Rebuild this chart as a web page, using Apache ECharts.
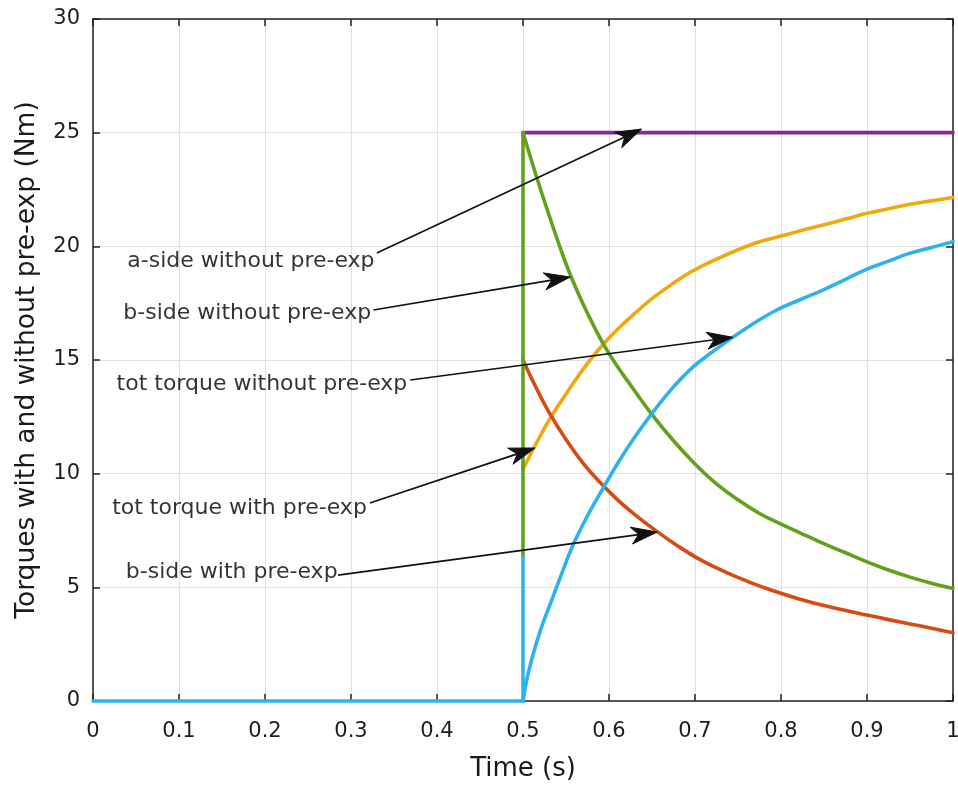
<!DOCTYPE html>
<html>
<head>
<meta charset="utf-8">
<script src="https://cdn.jsdelivr.net/npm/echarts@6/dist/echarts.min.js"></script>
<style>
html,body{margin:0;padding:0;background:#fff;}
#chart{width:958px;height:787px;}
</style>
</head>
<body>
<div id="chart"></div>
<script>
// ---- data ----
const xTickLabels = ['0','0.1','0.2','0.3','0.4','0.5','0.6','0.7','0.8','0.9','1'];
const yTickLabels = ['0','5','10','15','20','25','30'];

// a-side without pre-exp (purple)
const tASide = [0.5, 1.0];
const vASide = [25, 25];

// tot torque with pre-exp (orange)
const tTotWith = [0.5,0.515,0.531,0.55,0.57,0.59,0.61,0.63,0.65,0.672,0.694,0.72,0.75,0.775,0.8,0.822,0.85,0.875,0.9,0.925,0.95,0.975,1.0];
const vTotWith = [10.2,11.3,12.4,13.5,14.6,15.55,16.35,17.05,17.7,18.3,18.85,19.35,19.85,20.2,20.45,20.68,20.95,21.2,21.45,21.65,21.85,22.0,22.15];

// b-side with pre-exp (red)
const tBWith = [0.5,0.515,0.531,0.55,0.57,0.59,0.61,0.63,0.656,0.68,0.706,0.735,0.764,0.79,0.822,0.85,0.875,0.9,0.925,0.95,0.975,1.0];
const vBWith = [15.0,13.8,12.65,11.5,10.45,9.6,8.85,8.2,7.45,6.82,6.22,5.68,5.22,4.86,4.48,4.2,3.98,3.78,3.58,3.39,3.2,3.0];

// b-side without pre-exp (green)
const tBWithoutStep = [0.5, 0.5];
const vBWithoutStep = [6.33, 25];
const tBWithout = [0.5,0.515,0.53,0.545,0.555,0.57,0.585,0.595,0.61,0.625,0.648,0.675,0.702,0.725,0.75,0.775,0.802,0.822,0.845,0.875,0.9,0.925,0.95,0.975,1.0];
const vBWithout = [25,23.15,21.4,19.75,18.75,17.45,16.3,15.6,14.7,13.9,12.7,11.45,10.35,9.55,8.85,8.25,7.75,7.4,7.0,6.52,6.12,5.76,5.45,5.18,4.95];

// tot torque without pre-exp (cyan)
const tTotWithoutFlat = [0, 0.5];
const vTotWithoutFlat = [0, 0];
const tTotWithoutStep = [0.5, 0.5];
const vTotWithoutStep = [0, 6.33];
const tTotWithout = [0.5,0.505,0.51,0.516,0.523,0.531,0.545,0.558,0.575,0.593,0.61,0.628,0.648,0.67,0.695,0.72,0.744,0.77,0.795,0.822,0.85,0.875,0.9,0.925,0.95,0.975,1.0];
const vTotWithout = [0,1.05,1.8,2.6,3.4,4.2,5.6,6.85,8.15,9.35,10.45,11.5,12.55,13.6,14.6,15.35,16.0,16.65,17.2,17.65,18.1,18.55,19.0,19.35,19.7,19.95,20.2];

// annotations (data coordinates)
const annTexts = ['a-side without pre-exp','b-side without pre-exp','tot torque without pre-exp','tot torque with pre-exp','b-side with pre-exp'];
const annTextAt = [[0.328,19.36],[0.324,17.07],[0.366,13.95],[0.319,8.49],[0.285,5.68]];
const annTail = [[0.330,19.71],[0.326,17.2],[0.369,14.12],[0.322,8.71],[0.285,5.54]];
const annTip = [[0.638,25.16],[0.555,18.65],[0.744,16.0],[0.514,11.13],[0.656,7.43]];

const zip = (t, v) => t.map((x, i) => [x, v[i]]);

const FONT = 'DejaVu Sans';
const C = {
  purple: '#7E2F8E',
  orange: '#EFA90F',
  red: '#D84A14',
  green: '#63A11C',
  cyan: '#2EB2EE'
};

function lineSeries(name, data, color, z, smooth) {
  return {
    name, type: 'line', data, showSymbol: false, symbol: 'none',
    smooth: smooth ? 0.4 : false,
    lineStyle: { color, width: 3.6, cap: 'round', join: 'round' }, itemStyle: { color },
    z, animation: false, silent: true, clip: false
  };
}

const chart = echarts.init(document.getElementById('chart'), null, { renderer: 'canvas' });

const axisLineStyle = { color: '#222', width: 1.5 };
const HEAD_LEN = 26, HEAD_HALF_W = 8.5;

function renderArrow(params, api) {
  const p0 = api.coord([api.value(0), api.value(1)]);
  const p1 = api.coord([api.value(2), api.value(3)]);
  const dx = p1[0] - p0[0], dy = p1[1] - p0[1];
  const len = Math.sqrt(dx * dx + dy * dy) || 1;
  const ux = dx / len, uy = dy / len;
  const nx = -uy, ny = ux;
  const bx = p1[0] - ux * HEAD_LEN, by = p1[1] - uy * HEAD_LEN;
  const notch = [p1[0] - ux * HEAD_LEN * 0.72, p1[1] - uy * HEAD_LEN * 0.72];
  return {
    type: 'group',
    children: [
      {
        type: 'line',
        shape: { x1: p0[0], y1: p0[1], x2: notch[0], y2: notch[1] },
        style: { stroke: '#111', lineWidth: 1.7 }
      },
      {
        type: 'polygon',
        shape: { points: [p1, [bx + nx * HEAD_HALF_W, by + ny * HEAD_HALF_W], notch, [bx - nx * HEAD_HALF_W, by - ny * HEAD_HALF_W]] },
        style: { fill: '#111', stroke: '#111', lineWidth: 1 }
      }
    ]
  };
}

chart.setOption({
  backgroundColor: '#fff',
  animation: false,
  grid: { left: 93, right: 5, top: 19, bottom: 86, containLabel: false, outerBoundsMode: 'none' },
  xAxis: [
    {
      type: 'value', min: 0, max: 1, interval: 0.1, position: 'bottom',
      name: 'Time (s)', nameLocation: 'middle', nameGap: 55,
      nameTextStyle: { fontFamily: FONT, fontSize: 26, color: '#1a1a1a' },
      axisLine: { show: true, onZero: false, lineStyle: axisLineStyle },
      axisTick: { show: true, inside: true, length: 7, lineStyle: { color: '#222', width: 1.5 } },
      axisLabel: {
        fontFamily: FONT, fontSize: 21, color: '#1e1e1e', margin: 20,
        formatter: (v) => xTickLabels[Math.round(v * 10)]
      },
      splitLine: { show: true, lineStyle: { color: '#e2e2e2', width: 1 } }
    },
    {
      type: 'value', min: 0, max: 1, interval: 0.1, position: 'top',
      axisLine: { show: true, onZero: false, lineStyle: axisLineStyle },
      axisTick: { show: true, inside: true, length: 7, lineStyle: { color: '#222', width: 1.5 } },
      axisLabel: { show: false }, splitLine: { show: false }
    }
  ],
  yAxis: [
    {
      type: 'value', min: 0, max: 30, interval: 5, position: 'left',
      name: 'Torques with and without pre-exp (Nm)', nameLocation: 'middle', nameGap: 52,
      nameTextStyle: { fontFamily: FONT, fontSize: 26.5, color: '#1a1a1a' },
      axisLine: { show: true, onZero: false, lineStyle: axisLineStyle },
      axisTick: { show: true, inside: true, length: 7, lineStyle: { color: '#222', width: 1.5 } },
      axisLabel: {
        fontFamily: FONT, fontSize: 21, color: '#1e1e1e', margin: 13,
        formatter: (v) => yTickLabels[Math.round(v / 5)]
      },
      splitLine: { show: true, lineStyle: { color: '#e2e2e2', width: 1 } }
    },
    {
      type: 'value', min: 0, max: 30, interval: 5, position: 'right',
      axisLine: { show: true, onZero: false, lineStyle: axisLineStyle },
      axisTick: { show: true, inside: true, length: 7, lineStyle: { color: '#222', width: 1.5 } },
      axisLabel: { show: false }, splitLine: { show: false }
    }
  ],
  series: [
    lineSeries('a-side without pre-exp', zip(tASide, vASide), C.purple, 2, false),
    lineSeries('tot torque with pre-exp', zip(tTotWith, vTotWith), C.orange, 3, true),
    lineSeries('b-side with pre-exp', zip(tBWith, vBWith), C.red, 4, true),
    lineSeries('b-side without pre-exp step', zip(tBWithoutStep, vBWithoutStep), C.green, 5, false),
    lineSeries('b-side without pre-exp', zip(tBWithout, vBWithout), C.green, 5, true),
    lineSeries('tot torque without pre-exp flat', zip(tTotWithoutFlat, vTotWithoutFlat), C.cyan, 6, false),
    lineSeries('tot torque without pre-exp step', zip(tTotWithoutStep, vTotWithoutStep), C.cyan, 6, false),
    lineSeries('tot torque without pre-exp', zip(tTotWithout, vTotWithout), C.cyan, 6, true),
    {
      name: 'annotation text', type: 'scatter', z: 10, silent: true, animation: false,
      data: annTextAt.map((p, i) => ({ value: p, name: annTexts[i] })),
      symbolSize: 1, itemStyle: { color: 'rgba(0,0,0,0)' },
      label: {
        show: true, position: 'left', distance: 0,
        formatter: (p) => annTexts[p.dataIndex],
        fontFamily: FONT, fontSize: 22, color: '#000'
      }
    },
    {
      name: 'annotation arrows', type: 'custom', z: 11, silent: true, animation: false,
      coordinateSystem: 'cartesian2d', clip: false,
      encode: { x: [0, 2], y: [1, 3] },
      data: annTail.map((p, i) => [p[0], p[1], annTip[i][0], annTip[i][1]]),
      renderItem: renderArrow
    }
  ]
});
</script>
</body>
</html>
